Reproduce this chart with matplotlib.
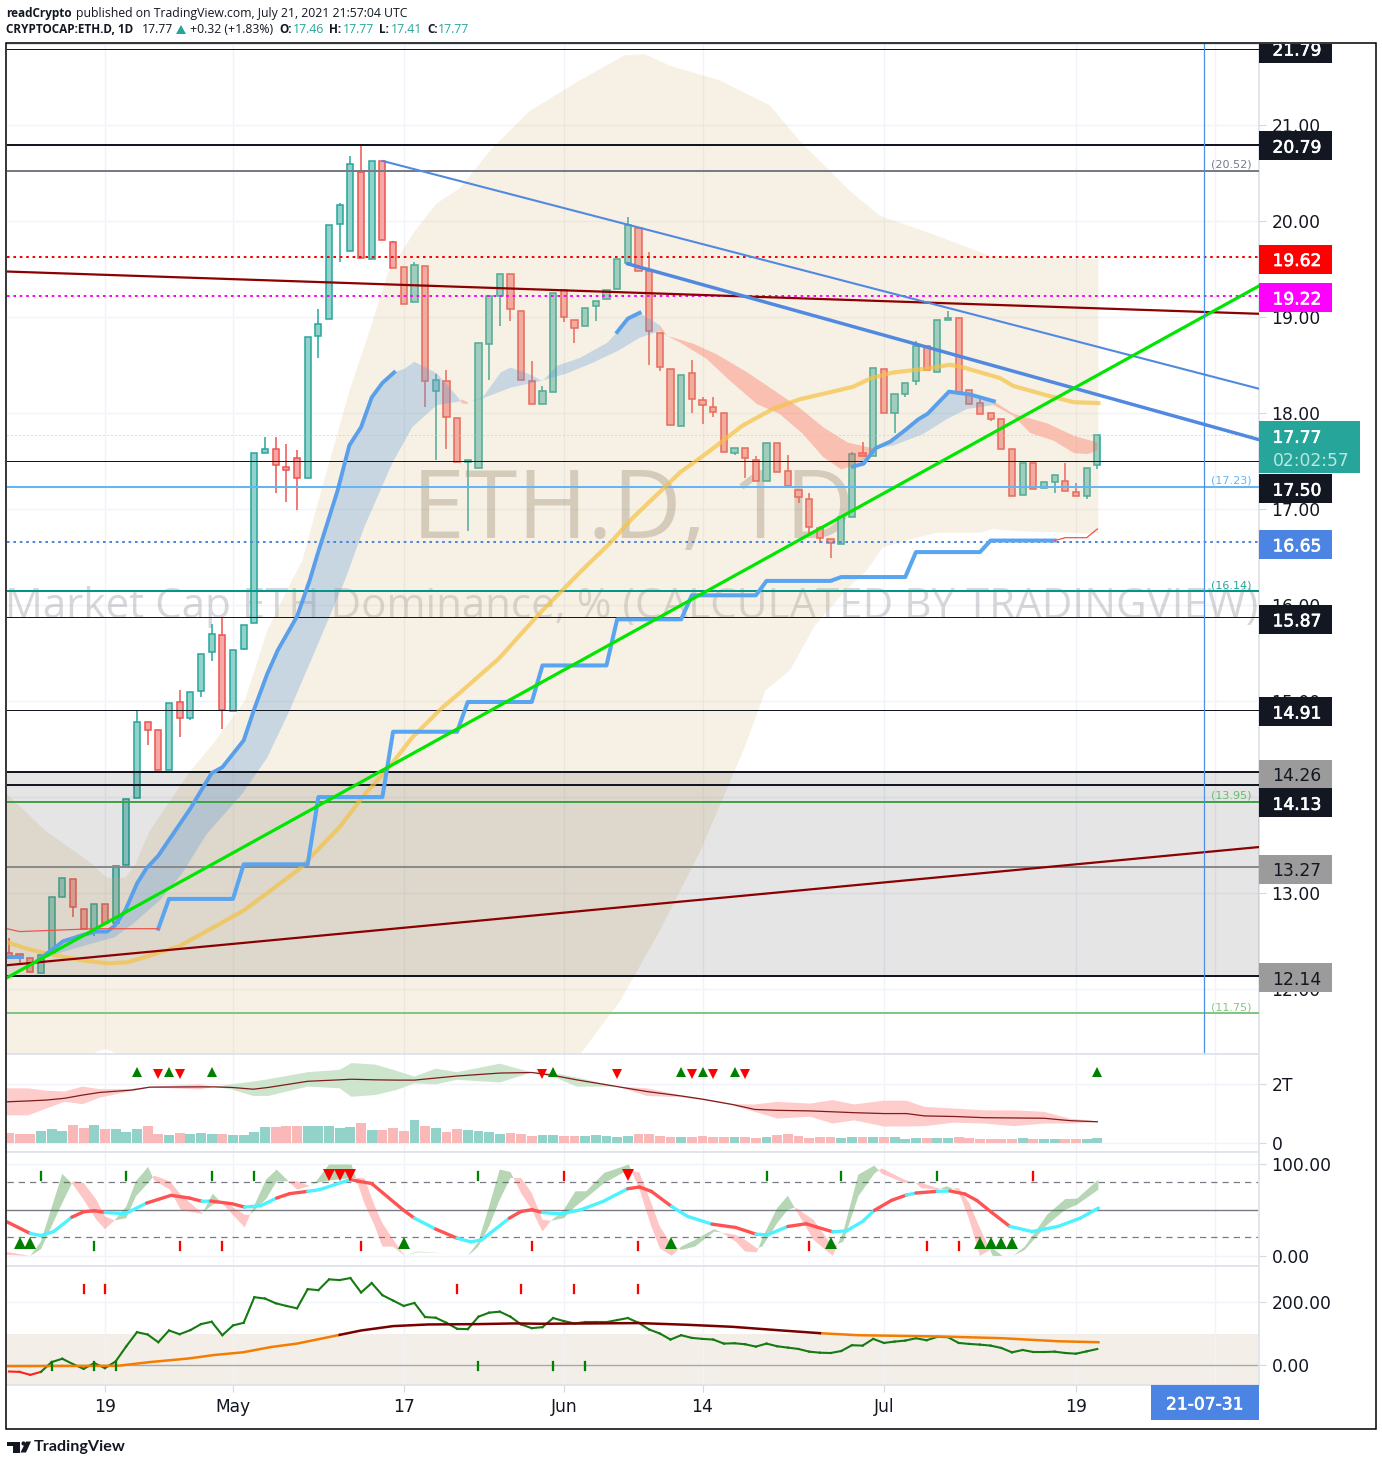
"""
ETH.D daily chart with cloud, trend lines and three lower panes.
Run: python3 plot.py
"""

import numpy as np
import matplotlib
matplotlib.use("Agg")
import matplotlib.pyplot as plt
import matplotlib.patheffects as pe
from matplotlib.patches import Rectangle, Polygon, Circle
from matplotlib.transforms import Bbox

W, H = 1382, 1466
DARK = "#131722"
TEAL = "#26A69A"
RED = "#EF5350"

# candles, one per day from day -9; day 0 is Apr 19
first_day = -9
opens = [12.38, 12.37, 12.33, 12.17, 12.38, 12.96, 13.15, 12.84, 12.63, 12.89,
         12.69, 13.29, 13.99, 14.78, 14.70, 14.28, 14.99, 14.82, 15.10, 15.51,
         15.69, 14.90, 15.54, 15.81, 17.58, 17.62, 17.44, 17.53, 17.32, 18.80,
         18.98, 19.96, 19.68, 20.51, 19.60, 20.62, 19.78, 19.52, 19.15, 19.53,
         18.23, 18.33, 17.95, 17.49, 17.43, 18.72, 19.22, 19.44, 19.06, 18.33,
         18.09, 18.22, 19.28, 18.97, 18.90, 19.11, 19.18, 19.29, 19.56, 19.92,
         19.48, 18.83, 18.46, 17.86, 18.41, 18.13, 18.06, 18.00, 17.58, 17.63,
         17.51, 17.29, 17.69, 17.39, 17.20, 17.10, 16.80, 16.69, 16.63, 16.92,
         17.58, 17.55, 18.46, 18.00, 18.20, 18.33, 18.69, 18.42, 18.97, 18.99,
         18.24, 18.10, 18.00, 17.93, 17.62, 17.14, 17.48, 17.22, 17.28, 17.29,
         17.18, 17.13, 17.46]
closes = [12.33, 12.33, 12.18, 12.36, 12.96, 13.16, 12.86, 12.63, 12.89, 12.69,
          13.28, 13.98, 14.78, 14.70, 14.28, 14.98, 14.82, 15.09, 15.49, 15.70,
          14.91, 15.53, 15.79, 17.58, 17.62, 17.46, 17.40, 17.32, 18.79, 18.92,
          19.95, 20.16, 20.59, 19.61, 20.62, 19.80, 19.51, 19.13, 19.54, 18.33,
          18.34, 17.96, 17.49, 17.51, 18.73, 19.22, 19.44, 19.08, 18.34, 18.09,
          18.23, 19.25, 19.00, 18.88, 19.09, 19.16, 19.28, 19.60, 19.95, 19.48,
          18.85, 18.48, 17.87, 18.39, 18.14, 18.08, 18.01, 17.59, 17.63, 17.53,
          17.29, 17.69, 17.38, 17.24, 17.12, 16.81, 16.70, 16.64, 16.92, 17.57,
          17.55, 18.47, 18.00, 18.20, 18.31, 18.69, 18.44, 18.97, 18.99, 18.22,
          18.09, 17.99, 17.94, 17.62, 17.13, 17.48, 17.21, 17.28, 17.35, 17.19,
          17.13, 17.43, 17.77]
highs = [12.53, 12.37, 12.33, 12.36, 12.96, 13.16, 13.15, 12.84, 12.89, 12.89,
         13.28, 13.98, 14.90, 14.78, 14.70, 14.98, 15.11, 15.09, 15.49, 15.80,
         15.87, 15.53, 15.79, 17.58, 17.75, 17.75, 17.67, 17.61, 18.79, 19.08,
         19.95, 20.18, 20.67, 20.78, 20.62, 20.62, 19.79, 19.52, 19.57, 19.53,
         18.40, 18.44, 17.95, 17.51, 18.73, 19.22, 19.44, 19.44, 19.06, 18.54,
         18.28, 19.25, 19.28, 18.97, 19.09, 19.16, 19.28, 19.60, 20.04, 19.92,
         19.67, 18.83, 18.46, 18.39, 18.55, 18.16, 18.16, 18.00, 17.63, 17.63,
         17.55, 17.69, 17.69, 17.56, 17.20, 17.16, 16.82, 16.69, 16.92, 17.59,
         17.70, 18.47, 18.46, 18.20, 18.31, 18.75, 18.69, 18.97, 19.06, 18.99,
         18.24, 18.14, 18.00, 17.93, 17.62, 17.48, 17.48, 17.28, 17.35, 17.48,
         17.27, 17.43, 17.77]
lows = [12.33, 12.27, 12.18, 12.17, 12.38, 12.96, 12.75, 12.63, 12.55, 12.69,
        12.69, 13.29, 13.99, 14.54, 14.28, 14.28, 14.63, 14.80, 15.04, 15.42,
        14.71, 14.90, 15.53, 15.81, 17.58, 17.17, 17.07, 16.99, 17.32, 18.57,
        18.98, 19.57, 19.68, 19.61, 19.60, 19.80, 19.51, 19.13, 19.15, 18.06,
        17.51, 17.62, 17.49, 16.77, 17.43, 18.34, 18.90, 18.95, 18.34, 18.09,
        18.09, 18.22, 18.94, 18.73, 18.90, 18.96, 19.18, 19.29, 19.56, 19.48,
        18.50, 18.43, 17.87, 17.86, 18.00, 17.88, 17.96, 17.59, 17.56, 17.32,
        17.29, 17.29, 17.38, 17.24, 17.06, 16.73, 16.64, 16.49, 16.63, 16.92,
        17.55, 17.55, 18.00, 17.79, 18.16, 18.29, 18.44, 18.42, 18.97, 18.22,
        18.09, 17.99, 17.91, 17.62, 17.13, 17.14, 17.21, 17.22, 17.16, 17.19,
        17.13, 17.10, 17.41]
volumes = [.34, .31, .31, .41, .48, .41, .62, .52, .62, .48,
           .48, .38, .48, .59, .31, .28, .34, .31, .34, .31,
           .31, .28, .28, .38, .55, .55, .59, .59, .59, .59,
           .59, .52, .55, .69, .45, .45, .52, .41, .79, .59,
           .52, .38, .48, .45, .41, .38, .31, .34, .31, .24,
           .28, .28, .23, .23, .24, .28, .24, .21, .24, .31,
           .31, .24, .21, .21, .21, .24, .21, .21, .21, .21,
           .17, .21, .28, .31, .24, .17, .21, .21, .17, .21,
           .21, .21, .21, .21, .14, .17, .17, .17, .17, .21,
           .17, .14, .14, .14, .14, .17, .14, .14, .14, .14,
           .14, .14, .17]

# cloud outline
tan_days = [-9.18, -7, -5.6, -3.3, -1.4, .2, 1.9, 2.8, 4.2, 6.1, 8, 10.1, 13.1, 15.2, 17.5, 18.5,
            20.1, 23, 24.8, 26.5, 29.1, 31.1, 33.3, 36.1, 39.8, 44.5, 48.7, 50.6, 53, 57.6, 62.3,
            65.1, 69.8, 72.6, 77.3, 83, 93.1, 93.1, 85.1, 83.2, 82, 78, 75.7, 72.9, 71.4, 69.4,
            66.5, 64.2, 61.9, 60, 55.8, 52, 48.3, 44.5, 1.4, 0, -1.4, -9.18]
tan_vals = [14.03, 13.80, 13.65, 13.47, 13.32, 13.16, 13.16, 13.29, 13.65, 13.96, 14.27, 14.55,
            15.00, 15.73, 16.25, 16.46, 17.12, 18.26, 18.85, 19.45, 19.90, 20.18, 20.34, 20.73,
            21.14, 21.46, 21.72, 21.73, 21.61, 21.46, 21.20, 20.83, 20.31, 20.05, 19.87, 19.63,
            19.60, 16.74, 16.77, 16.79, 16.75, 16.75, 16.69, 16.60, 16.36, 16.15, 15.78, 15.32,
            15.11, 14.53, 13.44, 12.61, 11.88, 11.32, 11.32, 11.38, 11.32, 11.32]

# fast average ribbon, one block per colour run
ribbon1_top_days = [-6.3, -3.9, -2.2, -.9, .2, .9, 1.9, 3, 3.9, 5, 6.1, 8, 10, 11, 13, 14, 15.2, 16.2, 18,
                    19.2, 19.9, 21.8, 22.9, 24, 25, 26, 27.1]
ribbon1_top = [12.30, 12.50, 12.56, 12.60, 12.60, 12.66, 12.82, 13.10, 13.26, 13.39, 13.57, 13.88, 14.25,
               14.31, 14.59, 14.92, 15.28, 15.53, 15.88, 16.26, 16.52, 17.19, 17.66, 17.85, 18.16, 18.31, 18.42]
ribbon1_end_days = [28.1, 29, 31.1, 32.3, 33.4]
ribbon1_end = [18.46, 18.53, 18.41, 18.26, 18.12]
ribbon1_low_days = [-6.3, -3.6, -1.1, .9, 2.6, 5.1, 7.2, 9.5, 12.9, 15.2, 17.3, 19.8, 22.5, 24.3, 26.9,
                    28.8, 31.1, 33.4]
ribbon1_low = [12.30, 12.40, 12.48, 12.54, 12.68, 12.92, 13.20, 13.61, 14.04, 14.41, 14.90, 15.55, 16.26,
               16.81, 17.47, 17.85, 18.08, 18.12]

red0_top_days = [33.4, 34]
red0_top = [18.14, 18.11]
red0_low_days = [33.4, 34]
red0_low = [18.10, 18.09]

ribbon2_top_days = [34, 35.4, 37.1, 38, 39.6, 41, 42.4, 44.5, 47.1, 48, 49, 50.1, 52]
ribbon2_top = [18.11, 18.16, 18.42, 18.47, 18.41, 18.33, 18.49, 18.57, 18.73, 18.84, 18.98, 19.04, 18.91]
ribbon2_low_days = [34, 35.4, 38, 40.8, 43.3, 45.5, 48, 50.1, 52]
ribbon2_low = [18.11, 18.15, 18.26, 18.33, 18.41, 18.51, 18.64, 18.78, 18.85]
ribbon2_thick_days = [48, 49, 50.1]
ribbon2_thick = [18.84, 18.98, 19.04]

red1_top_days = [52, 52.7, 55.1, 57.3, 60.2, 63, 65.1, 67.3, 69.6, 72]
red1_top = [18.91, 18.80, 18.72, 18.61, 18.42, 18.21, 18.05, 17.85, 17.69, 17.63]
red1_low_days = [52, 52.7, 53.9, 56.4, 58.3, 61.1, 63.2, 65.4, 67.3, 69, 70.1, 72]
red1_low = [18.85, 18.80, 18.73, 18.56, 18.36, 18.09, 17.99, 17.78, 17.54, 17.41, 17.45, 17.58]

ribbon3_top_days = [70.1, 71.1, 72.2, 73.6, 75, 76.2, 77.1, 79.1, 81.1, 83.3]
ribbon3_top = [17.44, 17.47, 17.63, 17.70, 17.82, 17.93, 17.99, 18.22, 18.19, 18.12]
ribbon3_low_days = [72.2, 73.9, 76.7, 79, 80.8, 83.3]
ribbon3_low = [17.63, 17.66, 17.78, 17.94, 18.04, 18.08]

red2_top_days = [83.3, 85.1, 88.3, 90.8, 93]
red2_top = [18.12, 17.99, 17.89, 17.76, 17.69]
red2_low_days = [83.3, 85.1, 86.7, 88.9, 90.8, 92.1, 93]
red2_low = [18.08, 17.97, 17.79, 17.71, 17.58, 17.57, 17.61]

# slow average
ma_days = [-9.18, -7.3, -4.5, -2.1, .2, 2.1, 4.2, 7, 10.1, 13, 15.2, 18.2, 22, 24.5, 26.4, 28.8, 31.6, 33.2,
           36.9, 40.8, 44.7, 47.3, 49.5, 52.7, 53.9, 56.4, 59.8, 62.6, 65.1, 68.2, 70.1, 71.8, 73.9, 77.1,
           79.2, 80.5, 83.9, 85.1, 88.3, 90.8, 93.3]
ma_vals = [12.49, 12.42, 12.35, 12.30, 12.27, 12.28, 12.35, 12.45, 12.64, 12.82, 13.00, 13.25, 13.69, 14.05,
           14.28, 14.62, 14.93, 15.08, 15.44, 15.92, 16.36, 16.64, 16.91, 17.25, 17.38, 17.58, 17.87, 18.04,
           18.14, 18.22, 18.27, 18.36, 18.42, 18.46, 18.50, 18.47, 18.36, 18.28, 18.18, 18.11, 18.10]

# stepped stop line and its thin red ends
step_days = [5, 6, 12, 13, 19, 20, 26, 27, 33, 34, 40, 41, 47, 48, 54, 55, 61, 62, 68, 69, 75, 76, 82, 83, 89]
step_vals = [12.63, 12.94, 12.94, 13.30, 13.30, 14.00, 14.00, 14.68, 14.68, 14.99, 14.99, 15.37, 15.37,
             15.85, 15.85, 16.10, 16.10, 16.25, 16.25, 16.29, 16.29, 16.55, 16.55, 16.67, 16.67]
stop_left_days = [-9.18, -8, -1, 5]
stop_left = [12.63, 12.60, 12.63, 12.63]
stop_right_days = [89, 90, 92, 93]
stop_right = [16.67, 16.70, 16.70, 16.79]
left_stub_days = [-9.18, -7.8]
left_stub = [12.34, 12.34]

# drawn lines: (day, price) at both ends
green_line_days = [-9.18, 108.15]
green_line = [12.12, 19.32]
darkred_a_days = [-9.18, 108.15]
darkred_a = [19.47, 19.03]
darkred_b_days = [-9.18, 108.15]
darkred_b = [12.25, 13.48]
thin_blue_days = [26.05, 108.15]
thin_blue = [20.62, 18.25]
thick_blue_days = [49, 108.15]
thick_blue = [19.55, 17.72]
cursor_day = 103

# horizontal levels
level_values = [21.79, 20.79, 20.52, 19.62, 19.22, 17.77, 17.50, 17.23, 16.65, 16.14, 15.87, 14.91, 14.26, 14.13,
                13.95, 13.27, 12.14, 11.75]
level_colors = [DARK, DARK, "#787B86", "#FF0000", "#FF00FF", "#9CCFC8", DARK, "#64B5F6", "#4C84E4", "#009688",
                DARK, DARK, DARK, DARK, "#43A047", "#8A8A8A", DARK, "#81C784"]
level_widths = [1, 2, 2, 2, 2, 1, 1, 2, 2, 2, 1, 1, 2, 2, 2, 2, 2, 2]
level_styles = ["-", "-", "-", ":", ":", ":", "-", "-", ":", "-", "-", "-", "-", "-", "-", "-", "-", "-"]
zone_top, zone_bottom = 14.26, 12.14

small_labels = ["(20.52)", "(17.23)", "(16.14)", "(13.95)", "(11.75)"]
small_label_vals = [20.52, 17.23, 16.14, 13.95, 11.75]
small_label_colors = ["#787B86", "#64B5F6", "#26A69A", "#66BB6A", "#81C784"]

# right axis tags: text, centre price, background, text colour
tag_texts = ["21.79", "20.79", "19.62", "19.22", "17.50", "16.65", "15.87", "14.91", "14.26", "14.13", "13.27", "12.14"]
tag_centres = [21.79, 20.78, 19.60, 19.20, 17.21, 16.63, 15.85, 14.89, 14.24, 13.94, 13.25, 12.12]
tag_colors = [DARK, DARK, "#FF0000", "#FF00FF", DARK, "#4C84E4", DARK, DARK, "#9B9B9B", DARK, "#9B9B9B", "#9B9B9B"]
tag_text_colors = ["white", "white", "white", "white", "white", "white", "white", "white", DARK, "white", DARK, DARK]
price_ticks = [12, 13, 14, 15, 16, 17, 18, 19, 20, 21]

date_ticks = [0, 12, 28, 43, 56, 73, 91]
date_labels = ["19", "May", "17", "Jun", "14", "Jul", "19"]
hidden_grid_day = 104

# volume pane indicator
flow_days = [-9.2, -7.2, -5.5, -3.8, -2.1, -.5, 2.5, 4.2, 8.9, 10.2, 11.9, 13.9, 15.3, 19, 22, 23.1, 25.3, 27.3,
             29, 31, 33, 37, 40, 42, 44.2, 48, 50.8, 54, 56, 58.8, 60.9, 63, 66.1, 68.2, 70.2, 73, 75.1, 76.8,
             79.6, 82.4, 85.2, 88, 90.4, 93]
flow_up = [1.86, 1.86, 1.78, 1.75, 1.92, 1.83, 1.84, 1.91, 2.00, 1.91, 2.00, 2.09, 2.17, 2.41, 2.49, 2.72, 2.67, 2.46,
           2.26, 2.53, 2.41, 2.70, 2.40, 2.38, 2.23, 1.92, 1.86, 1.62, 1.52, 1.32, 1.31, 1.40, 1.34, 1.46, 1.31,
           1.44, 1.44, 1.23, 1.17, 1.11, 1.11, 1.06, .83, .74]
flow_low = [.94, .94, 1.17, 1.40, 1.32, 1.54, 1.77, 1.89, 1.82, 1.91, 1.82, 1.60, 1.60, 1.92, 1.86, 1.57, 1.63, 1.80,
            2.03, 2.00, 2.15, 2.06, 2.40, 2.26, 1.92, 1.92, 1.60, 1.56, 1.46, 1.28, 1.06, .83, .89, .66, .77,
            .56, .56, .57, .69, .66, .57, .66, .66, .71]
flow_mid = [1.40, 1.43, 1.46, 1.52, 1.63, 1.72, 1.80, 1.90, 1.91, 1.91, 1.89, 1.83, 1.89, 2.10, 2.15, 2.17, 2.15, 2.14,
            2.14, 2.21, 2.28, 2.38, 2.40, 2.30, 2.15, 1.92, 1.75, 1.60, 1.49, 1.31, 1.14, 1.11, 1.09, 1.06, 1.03,
            1.00, 1.00, .92, .90, .86, .85, .84, .76, .72]
flow_green_runs = [(2.5, 4.2), (10.2, 40), (42, 48)]
flow_up_marks = [3, 6, 10, 42, 54, 56, 59, 93]
flow_down_marks = [5, 7, 41, 48, 55, 57, 60]

# oscillator pane
osc_days = [-9.2, -7, -6, -4.8, -3.1, -2, -1, 0, 1.9, 3.9, 6.2, 7.9, 9.1, 9.9, 11.9, 13.1, 14.6, 16.1, 17.3, 19, 20.1,
            23, 25, 28, 29, 31, 33, 34.3, 35.3, 37.9, 39, 40, 41, 42, 42.8, 44.6, 46.7, 49, 50.1, 51.2, 53.1, 54.6,
            56.9, 59.1, 61, 62.1, 64, 65.7, 68.2, 69.5, 71, 72.1, 73.7, 75.1, 76, 78, 79.2, 80.6, 81.7, 83.1, 84.8,
            86.9, 89.3, 91.4, 93.1]
osc_vals = [37, 24.3, 22.1, 26.4, 42, 47.8, 48.9, 47.1, 45.7, 57.2, 65.6, 62.7, 59.1, 59.4, 56.5, 52.9, 54.3, 62.7,
            67.4, 69.9, 71.7, 82.6, 78.3, 49.3, 40.9, 29, 19.2, 15.2, 17.4, 40.9, 48.2, 50, 47.1, 46, 45.7, 50, 59.1,
            72.8, 74.6, 69.9, 53.6, 42.8, 34.4, 30.8, 23.6, 22.8, 31.9, 34.8, 26.1, 27.2, 37.3, 49.3, 60.1, 65.9,
            68.1, 69.9, 70.3, 67, 60.1, 47.1, 31.9, 26.4, 31.9, 40.9, 51.8]
osc_cyan_runs = [(-7, -3.1), (0, 3.9), (9.1, 9.9), (13.1, 16.1), (19, 23), (29, 31), (33, 37.9), (41, 49), (53.1, 56.9),
                 (61, 64), (68.2, 72.1), (75.1, 76), (78, 79.2), (84.8, 93.1)]

stoch_days = [-9.2, -7, -6, -4, -3, -2, -.8, 0, .9, 2, 2.9, 4.05, 4.6, 6.1, 7.1, 9.1, 10.1, 11.1, 13.1, 13.6, 15.1, 16.1,
              18, 19.1, 19.8, 21, 23.1, 24.3, 25.3, 26, 27, 28.1, 29.3, 31.7, 34, 35, 36, 37, 38, 39, 40, 41, 41.8,
              43, 44.1, 45.1, 46.8, 49.1, 50.1, 51.2, 52, 53.1, 54, 55.3, 57.1, 57.8, 59.1, 60, 61.1, 61.6, 63, 64,
              64.7, 66.4, 68.2, 69.2, 70.6, 72.1, 72.8, 74.9, 75.8, 76.5, 78, 78.9, 80, 81, 82, 83.2, 84.1, 85.1,
              86.2, 88.3, 90, 91.1, 93.1]
stoch_k = [1.1, 0, 15.6, 88.8, 77.2, 60.9, 39.1, 29, 38.4, 53.6, 80.8, 96.4, 81.9, 71.7, 50, 45.3, 67.4, 55.4, 30.8, 44.6,
           82.6, 93.5, 71.7, 75.4, 80.8, 98.9, 98.9, 57.2, 31.9, 10.1, 10.1, 0, 4.7, 2.9, 0, 15.6, 53.6, 93.5, 90.9,
           68.1, 50, 26.4, 38, 50, 70, 70, 89.9, 98.9, 71.7, 31.9, 8.3, 0, 10.1, 17.4, 29, 25.3, 15.6, 4.7, 4, 19.2,
           51.8, 65.2, 50.7, 17.4, 0, 26.4, 88, 97.8, 89.1, 79, 80.8, 73.5, 71.7, 75.4, 70, 39.1, 0, 8.3, 0, 0, 10.1,
           44.6, 61.6, 62, 82.6]
stoch_d = [4.3, 0, 7.2, 57.2, 80.8, 79, 60.9, 42.8, 38.4, 40.9, 64.5, 79, 87, 80.8, 66.3, 46.4, 55.4, 59.1, 44.6, 44.6,
           61.6, 80.8, 80.8, 76.1, 79, 81.5, 84.4, 84.4, 53.6, 35.5, 18, 0, 4, 2.9, 0, 10.1, 31.9, 60.9, 84.4, 84.4,
           68.1, 39.1, 38, 40.9, 53.6, 62.7, 79, 93.5, 89.9, 57.2, 31.9, 12, 6.5, 10.1, 26.4, 25.3, 22.8, 17.4, 8.3,
           10.1, 35.5, 50, 52.5, 39.1, 10.1, 15.6, 64.5, 89.1, 94.9, 82.6, 79, 79, 73.5, 71.7, 73.5, 57.2, 30.1, 0, 0,
           0, 6.5, 33.7, 50, 55.4, 71.7]
osc_up_marks = [-8, -7, 28, 53, 68, 82, 83, 84, 85]
osc_down_marks = [21, 22, 23, 49]
osc_i_top_green = [-6, 2, 10, 14, 35, 62, 69, 78]
osc_i_top_red = [43, 87]
osc_i_low_green = [-1]
osc_i_low_red = [7, 11, 24, 40, 50, 66, 77, 80]

# bottom pane, one value per day
cci_vals = [-21.4, -22.5, -32.1, -22.5, 8.7, 19.5, 2.3, -12.8, 5.5, -10.6,
            10.9, 59.3, 104.4, 96.9, 72.2, 109.8, 97.9, 110.9, 130.2, 137.7,
            94.7, 125.9, 134.5, 216.2, 211.9, 196.9, 188.3, 180.7, 242, 238.8,
            273.2, 271, 277.5, 231.3, 261.4, 222.7, 205.5, 188.3, 197.9, 152.8,
            150.6, 134.5, 115.2, 114.1, 153.9, 166.8, 170, 153.9, 129.1, 117.3,
            120.5, 149.6, 139.9, 132.4, 136.7, 136.7, 136.7, 143.1, 149.6, 134.5,
            113, 100.1, 80.8, 94.7, 86.1, 82.9, 80.8, 67.9, 69, 65.7,
            58.2, 67.9, 59.3, 55, 50.7, 42.1, 38.8, 37.8, 44.2, 62.7,
            61.4, 82.9, 70, 74.3, 77.5, 85, 78.6, 89.4, 88.3, 70,
            66.8, 64.6, 61.4, 53.9, 39.9, 47.4, 41, 41, 42.1, 37.8,
            35.6, 43.1, 50.7]
cci_ma_days = [-9.2, 1.2, 4.2, 7.9, 10.2, 12.9, 15.6, 18, 22, 24, 27, 30.3, 35, 38.4, 40.8, 50.1, 54.6, 58.8, 63, 67,
               70.6, 78.6, 84.1, 89.3, 93.1]
cci_ma = [-4.2, -3.1, 8.7, 20.5, 31.3, 39.9, 57.1, 67.9, 95.8, 109.8, 123.8, 129.1, 130.2, 132.4, 131.3, 133.4, 128,
          121.6, 110.9, 101.2, 94.7, 90.4, 85, 75.4, 72.2]
cci_ma_dark_from, cci_ma_dark_to = 22, 67
cci_i_red = [-2, 0, 33, 39, 44, 50]
cci_i_green = [-5, -1, 1, 35, 42, 45]


def pane(top, bottom):
    return fig.add_axes([7 / W, 1 - bottom / H, 1252 / W, (bottom - top) / H])


def fx(x):
    return x / W


def fy(y):
    return 1 - y / H


def style_pane(ax, ylim, ticks, labels):
    ax.set_xlim(-9.18, 108.15)
    ax.set_ylim(*ylim)
    ax.set_facecolor("white")
    ax.set_axisbelow(True)
    for side in ["top", "bottom", "right"]:
        ax.spines[side].set_color("#E0E3EB")
        ax.spines[side].set_linewidth(1.3)
    ax.spines["left"].set_visible(False)
    ax.set_xticks(date_ticks + [hidden_grid_day])
    ax.set_xticklabels([])
    ax.yaxis.tick_right()
    ax.set_yticks(ticks)
    ax.set_yticklabels(labels)
    ax.tick_params(axis="y", length=5, width=0.8, color="#D6D8DE", labelsize=12.3, labelcolor=DARK, pad=4)
    ax.tick_params(axis="x", length=0)
    ax.grid(True, color="#F0F3FA", linewidth=1.0, zorder=0)


def ribbon(ax, d_top, v_top, d_low, v_low, color, alpha, z=4):
    xs = list(d_top) + list(d_low)[::-1]
    ys = list(v_top) + list(v_low)[::-1]
    ax.fill(xs, ys, color=color, alpha=alpha, lw=0, zorder=z)


def i_marks(ax, days, y, color):
    ax.plot(days, [y] * len(days), ls="", marker=r"$\mathrm{I}$", ms=7.5, color=color, mew=0.2, zorder=6)


def in_runs(x, runs):
    return any(a <= x <= b for a, b in runs)


fig = plt.figure(figsize=(W / 100, H / 100), dpi=100, facecolor="white")
plt.rcParams["font.family"] = "DejaVu Sans"

days = np.arange(first_day, first_day + len(opens))
opens_a, closes_a, highs_a, lows_a = map(np.array, (opens, closes, highs, lows))
is_up = closes_a >= opens_a
heavy = [pe.withStroke(linewidth=0.45, foreground="white")]

# ---- main pane ----
ax = pane(44, 1054)
style_pane(ax, (11.326, 21.838), price_ticks, [f"{v:.2f}" for v in price_ticks])

ax.text(fx(633), fy(538), "ETH.D, 1D", family="Open Sans", fontsize=68.5, color="#6E6250", alpha=0.3,
        ha="center", va="baseline", transform=fig.transFigure, zorder=1.2)
ax.text(fx(632), fy(618), "Market Cap ETH Dominance, % (CALCULATED BY TRADINGVIEW)", family="Open Sans",
        fontsize=30.3, color="#787B86", alpha=0.3, ha="center", va="baseline", transform=fig.transFigure,
        zorder=1.2)

for color, mask in [(TEAL, is_up), (RED, ~is_up)]:
    ax.vlines(days[mask], lows_a[mask], highs_a[mask], color=color, lw=1.1, zorder=2)
    tops = np.maximum(opens_a, closes_a)[mask]
    bots = np.minimum(opens_a, closes_a)[mask]
    ax.bar(days[mask], tops - bots, bottom=bots, width=0.58, color="white", edgecolor="none", zorder=2.1)
    ax.bar(days[mask], tops - bots, bottom=bots, width=0.58, color=matplotlib.colors.to_rgba(color, 0.5),
           edgecolor=color, linewidth=1.1, zorder=2.2)

ax.fill(tan_days, tan_vals, color="#DDBE85", alpha=0.22, lw=0, zorder=3)
ax.add_patch(Rectangle((0, zone_bottom), 1, zone_top - zone_bottom, transform=ax.get_yaxis_transform(),
                       color="#000000", alpha=0.1, lw=0, zorder=3))

ribbon(ax, ribbon1_top_days + ribbon1_end_days, ribbon1_top + ribbon1_end, ribbon1_low_days, ribbon1_low,
       "#5A9BD8", 0.3)
ribbon(ax, ribbon2_top_days, ribbon2_top, ribbon2_low_days, ribbon2_low, "#5A9BD8", 0.3)
ribbon(ax, ribbon3_top_days, ribbon3_top, ribbon3_low_days, ribbon3_low, "#5A9BD8", 0.3)
ribbon(ax, red0_top_days, red0_top, red0_low_days, red0_low, "#FF5A45", 0.32)
ribbon(ax, red1_top_days, red1_top, red1_low_days, red1_low, "#FF5A45", 0.32)
ribbon(ax, red2_top_days, red2_top, red2_low_days, red2_low, "#FF5A45", 0.32)

for val, col, wid, sty in zip(level_values, level_colors, level_widths, level_styles):
    if sty == ":":
        ax.axhline(val, color=col, lw=wid * 0.72, ls=(0, (1.3, 1.9)) if wid > 1 else (0, (1, 3)), zorder=5)
    else:
        ax.axhline(val, color=col, lw=wid * 0.72, zorder=5)

ax.plot(ma_days, ma_vals, color="#F5C242", lw=3.0, alpha=0.7, zorder=5, solid_capstyle="butt")
ax.plot(ribbon1_top_days, ribbon1_top, color="#5A9FE9", lw=2.8, zorder=5.5)
ax.plot(left_stub_days, left_stub, color="#5A9FE9", lw=2.8, zorder=5.5)
ax.plot(ribbon2_thick_days, ribbon2_thick, color="#5A9FE9", lw=2.8, zorder=5.5)
ax.plot(ribbon3_top_days, ribbon3_top, color="#5A9FE9", lw=2.8, zorder=5.5)
ax.plot(step_days, step_vals, color="#5AA5F0", lw=2.9, zorder=5.5)
ax.plot(stop_left_days, stop_left, color=RED, lw=0.9, zorder=5.5)
ax.plot(stop_right_days, stop_right, color=RED, lw=0.9, zorder=5.5)

ax.plot(darkred_a_days, darkred_a, color="#8B0000", lw=1.6, zorder=5.6)
ax.plot(darkred_b_days, darkred_b, color="#8B0000", lw=1.6, zorder=5.6)
ax.plot(thin_blue_days, thin_blue, color="#5289E0", lw=1.5, zorder=5.7)
ax.plot(thick_blue_days, thick_blue, color="#5289E0", lw=2.5, zorder=5.7)
ax.plot(green_line_days, green_line, color="#00E600", lw=2.3, zorder=5.8)
ax.axvline(cursor_day, color="#4C8FE8", lw=0.9, zorder=5.9)

for txt, val, col in zip(small_labels, small_label_vals, small_label_colors):
    ax.text((1252 - 7) / 1252, val + 0.01, txt, transform=ax.get_yaxis_transform(), color=col, fontsize=8,
            ha="right", va="bottom", zorder=7)

# tags on the price axis, clipped to the pane height
tag_clip = Bbox([[1259, H - 1054], [1376, H - 44]])
for txt, centre, bg, fg in zip(tag_texts, tag_centres, tag_colors, tag_text_colors):
    box = Rectangle((1.0, centre - 0.151), 73 / 1252, 0.302, transform=ax.get_yaxis_transform(), facecolor=bg,
                    edgecolor="none", zorder=8)
    ax.add_patch(box)
    box.set_clip_path(None)
    box.set_clip_box(tag_clip)
    t = ax.text(1 + 13.5 / 1252, centre, txt, transform=ax.get_yaxis_transform(), color=fg, fontsize=12.3,
                ha="left", va="center_baseline", zorder=9, clip_on=True)
    t.set_clip_path(None)
    t.set_clip_box(tag_clip)
    if fg == "white":
        t.set_path_effects(heavy)

ax.add_patch(Rectangle((1.0, 17.64 - 0.27), 101 / 1252, 0.54, transform=ax.get_yaxis_transform(), facecolor=TEAL,
                       edgecolor="none", clip_on=False, zorder=8))
ax.text(1 + 13.5 / 1252, 17.76, "17.77", transform=ax.get_yaxis_transform(), color="white", fontsize=12.3,
        ha="left", va="center_baseline", zorder=9, clip_on=False, path_effects=heavy)
ax.text(1 + 13.5 / 1252, 17.52, "02:02:57", transform=ax.get_yaxis_transform(), color="#BFE5E0", fontsize=12.3,
        ha="left", va="center_baseline", zorder=9, clip_on=False)

# ---- volume pane ----
ax2 = pane(1054, 1152)
style_pane(ax2, (-0.31, 3.03), [0, 2], ["0", "2T"])
vol_colors = ["#92D2C9" if u else "#F9B9B9" for u in is_up]
ax2.bar(days, volumes, width=0.92, color=vol_colors, lw=0, zorder=2)
flow_d = np.array(flow_days)
flow_up_a, flow_low_a = np.array(flow_up), np.array(flow_low)
green_mask = np.array([in_runs(x, flow_green_runs) for x in flow_days])
red_mask = np.array([not in_runs(x, flow_green_runs) or x in (2.5, 4.2, 10.2, 40, 42, 48) for x in flow_days])
ax2.fill_between(flow_d, flow_up_a, flow_low_a, where=green_mask, color="#CDE5CC", lw=0, zorder=3)
ax2.fill_between(flow_d, flow_up_a, flow_low_a, where=red_mask, color="#FFCCCC", lw=0, zorder=3)
ax2.plot(flow_days, flow_mid, color="#7E1B1B", lw=0.9, zorder=4)
ax2.plot(flow_up_marks, [2.41] * len(flow_up_marks), ls="", marker="^", ms=7.4, color="#008000", mew=0, zorder=5)
ax2.plot(flow_down_marks, [2.35] * len(flow_down_marks), ls="", marker="v", ms=7.4, color="#FF0000", mew=0, zorder=5)

# ---- oscillator pane ----
ax3 = pane(1152, 1266)
style_pane(ax3, (-10.9, 112.5), [0, 100], ["0.00", "100.00"])
ax3.axhline(80, color="#787B86", lw=0.9, ls=(0, (5, 4)), zorder=1)
ax3.axhline(20, color="#787B86", lw=0.9, ls=(0, (5, 4)), zorder=1)
ax3.axhline(50, color="#787B86", lw=1.0, zorder=1)
st_d, st_k, st_s = map(np.array, (stoch_days, stoch_k, stoch_d))
ax3.fill_between(st_d, st_k, st_s, where=st_k >= st_s, interpolate=True, color="#2E8B2E", alpha=0.35, lw=0, zorder=2)
ax3.fill_between(st_d, st_k, st_s, where=st_k <= st_s, interpolate=True, color="#FF5252", alpha=0.33, lw=0, zorder=2)
for i in range(len(osc_days) - 1):
    mid = (osc_days[i] + osc_days[i + 1]) / 2
    col = "#4CF2FF" if in_runs(mid, osc_cyan_runs) else "#FF5252"
    ax3.plot(osc_days[i:i + 2], osc_vals[i:i + 2], color=col, lw=2.4, zorder=3, solid_capstyle="round")
ax3.plot(osc_up_marks, [14] * len(osc_up_marks), ls="", marker="^", ms=8, color="#008000", mew=0, zorder=5)
ax3.plot(osc_down_marks, [88] * len(osc_down_marks), ls="", marker="v", ms=8, color="#FF0000", mew=0, zorder=5)
i_marks(ax3, osc_i_top_green, 86, "#008000")
i_marks(ax3, osc_i_top_red, 86, "#FF0000")
i_marks(ax3, osc_i_low_green, 11, "#008000")
i_marks(ax3, osc_i_low_red, 11, "#FF0000")

# ---- bottom pane ----
ax4 = pane(1266, 1385)
style_pane(ax4, (-64.5, 316), [0, 200], ["0.00", "200.00"])
ax4.axhspan(-64.5, 100, color="#F3EFE8", lw=0, zorder=0.5)
ax4.axhline(0, color="#A8A8A8", lw=1.0, zorder=1)
for i in range(len(cci_vals) - 1):
    col = "#FF2020" if cci_vals[i] < 0 and cci_vals[i + 1] < 0 else "#157A12"
    ax4.plot(days[i:i + 2], cci_vals[i:i + 2], color=col, lw=1.5, zorder=3)
ma_d = np.array(cci_ma_days)
ma_v = np.array(cci_ma)
dark = (ma_d >= cci_ma_dark_from) & (ma_d <= cci_ma_dark_to)
ax4.plot(ma_d[ma_d <= cci_ma_dark_from], ma_v[ma_d <= cci_ma_dark_from], color="#F57C00", lw=1.8, zorder=4)
ax4.plot(ma_d[ma_d >= cci_ma_dark_to], ma_v[ma_d >= cci_ma_dark_to], color="#F57C00", lw=1.8, zorder=4)
ax4.plot(ma_d[dark], ma_v[dark], color="#7A0000", lw=1.8, zorder=4)
i_marks(ax4, cci_i_red, 242, "#FF0000")
i_marks(ax4, cci_i_green, -3, "#008000")
ax4.set_xticklabels(date_labels + [""], fontsize=12.3, color=DARK)
ax4.tick_params(axis="x", length=5, width=0.8, color="#D6D8DE", pad=4.5, labelbottom=True)

# date chip under the cursor line
fig.add_artist(Rectangle((fx(1151), fy(1420)), 108 / W, 35 / H, transform=fig.transFigure, facecolor="#4C84E4",
                         edgecolor="none", zorder=5))
fig.text(fx(1205), fy(1404.5), "21-07-31", color="white", fontsize=12.3, ha="center", va="center", zorder=6,
         path_effects=heavy)

# outer frame
fig.add_artist(Rectangle((fx(6), fy(1429)), 1370 / W, 1386 / H, transform=fig.transFigure, fill=False,
                         edgecolor="black", lw=1.1, zorder=7))

# header
hfont = dict(family="Open Sans", fontsize=8.8, va="center", color=DARK)
bfont = dict(family="Open Sans", fontsize=8.5, va="center", color=DARK, fontweight="bold")
fig.text(fx(6), fy(13), "readCrypto", **bfont)
fig.text(fx(76), fy(13), "published on TradingView.com, July 21, 2021 21:57:04 UTC", **hfont)
fig.text(fx(6), fy(29.5), "CRYPTOCAP:ETH.D, 1D", **bfont)
fig.text(fx(142), fy(29.5), "17.77", **hfont)
fig.add_artist(Polygon([[fx(176), fy(34)], [fx(186), fy(34)], [fx(181), fy(25)]], transform=fig.transFigure,
                       facecolor=TEAL, edgecolor="none"))
fig.text(fx(190), fy(29.5), "+0.32 (+1.83%)", **hfont)
for key, kx, val, vx in [("O:", 279, "17.46", 293), ("H:", 329, "17.77", 343), ("L:", 379, "17.41", 391),
                         ("C:", 427, "17.77", 438)]:
    fig.text(fx(kx), fy(29.5), key, **bfont)
    fig.text(fx(vx), fy(29.5), val, family="Open Sans", fontsize=8.8, va="center", color=TEAL)

# logo and footer
fig.add_artist(Polygon([[fx(6.5), fy(1441.5)], [fx(20), fy(1441.5)], [fx(20), fy(1452.5)], [fx(13.5), fy(1452.5)],
                        [fx(13.5), fy(1445.5)], [fx(6.5), fy(1445.5)]], transform=fig.transFigure,
                       facecolor=DARK, edgecolor="none"))
fig.add_artist(Circle((fx(23.5), fy(1443.5)), 2 / W, transform=fig.transFigure, facecolor=DARK, edgecolor="none"))
fig.add_artist(Polygon([[fx(26), fy(1441.5)], [fx(31), fy(1441.5)], [fx(26), fy(1452.5)], [fx(20.5), fy(1452.5)]],
                       transform=fig.transFigure, facecolor=DARK, edgecolor="none"))
fig.text(fx(34), fy(1447), "TradingView", family="Lato", fontweight="bold", fontsize=11.6, color=DARK, va="center")

fig.savefig("out.png", dpi=100)
